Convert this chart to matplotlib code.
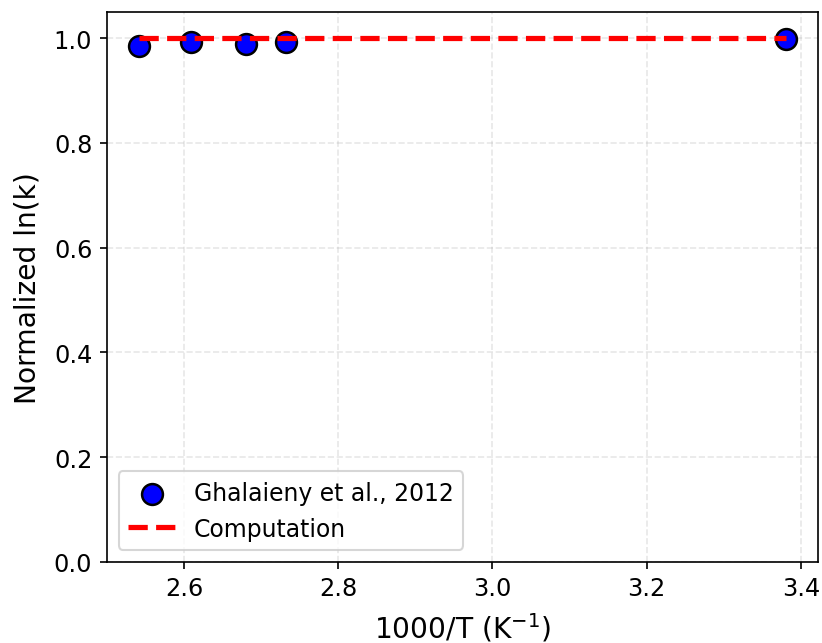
import numpy as np
import matplotlib
matplotlib.use("Agg")
import matplotlib.pyplot as plt

# measured points (1000/T, normalized ln k)
inv_T_exp = [2.542, 2.609, 2.680, 2.732, 3.380]
lnk_exp = [0.985, 0.993, 0.989, 0.992, 0.998]

# computed curve
inv_T_calc = [2.542, 2.609, 2.680, 2.732, 3.380]
lnk_calc = [1.0, 1.0, 1.0, 1.0, 1.0]

fig, ax = plt.subplots(figsize=(5.48, 4.293), dpi=150)
fig.subplots_adjust(left=0.130, right=0.995, bottom=0.126, top=0.980)

ax.scatter(inv_T_exp, lnk_exp, s=100, color="blue", edgecolors="black",
           linewidths=1.2, zorder=3, label="Ghalaieny et al., 2012")
ax.plot(inv_T_calc, lnk_calc, "r--", linewidth=2.5, zorder=4, label="Computation")

ax.set_ylim(0, 1.05)
ax.set_xlabel("1000/T (K$^{-1}$)", fontsize=13.5, labelpad=5)
ax.set_ylabel("Normalized ln(k)", fontsize=13.5, labelpad=6)
ax.tick_params(labelsize=11.5)
ax.grid(True, linestyle="--", alpha=0.3)
ax.legend(loc="lower left", fontsize=11.3)

plt.savefig("out.png", dpi=150)
